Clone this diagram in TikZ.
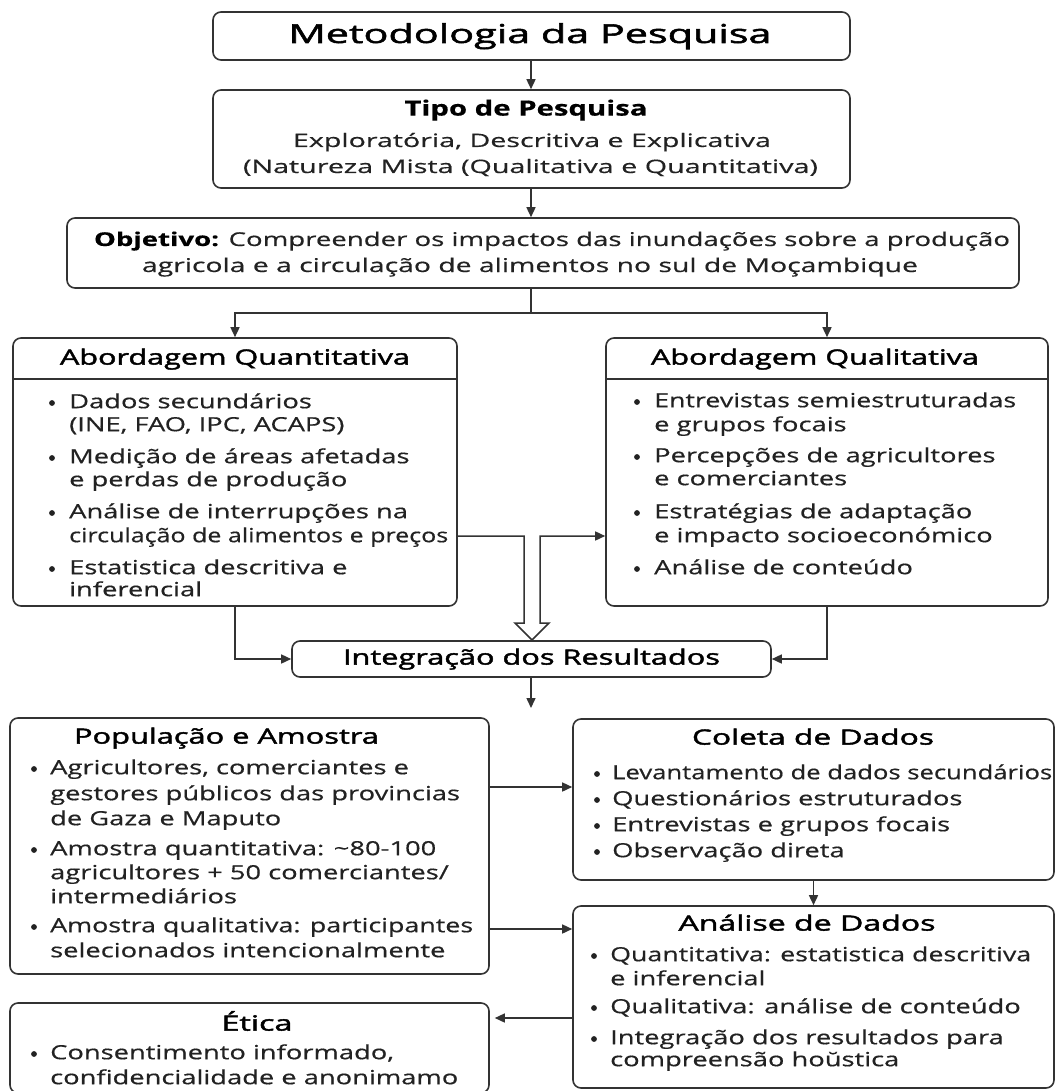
\documentclass[tikz,border=0pt]{standalone}
\usepackage{graphicx}
\usepackage{fontspec}
\setmainfont{Open Sans}[FakeStretch=1.4,FakeBold=0.5]
\newfontfamily\hfont{Open Sans}[FakeStretch=1.4,FakeBold=2]
\usetikzlibrary{arrows.meta}
\definecolor{ln}{HTML}{333333}
\definecolor{tx}{HTML}{222222}
\tikzset{
  box/.style={draw=ln, line width=1.6pt, rounded corners=8pt, inner sep=0pt, fill=white},
  conn/.style={draw=ln, line width=1.5pt},
  arr/.style={conn, -{Triangle[length=10pt,width=9pt]}},
  bt/.style={anchor=base west, inner sep=0pt, text=tx, font=\fontsize{19.5}{24}\selectfont},
  hd/.style={anchor=base, inner sep=0pt, text=black, font=\hfont\fontsize{21}{24}\selectfont},
  ctr/.style={anchor=base, inner sep=0pt, text=tx},
}
% line whose visual centre is at y: baseline 5.2 below
\newcommand\li[3]{\node[bt] at (#1,#2+5.2) {#3};}
\newcommand\bu[2]{\fill[tx] (#1,#2) circle (2.9pt);}
\newcommand\fw[2]{\resizebox{#1pt}{\height}{#2}}
\begin{document}
\begin{tikzpicture}[x=1pt,y=-1pt]
\useasboundingbox[fill=white] (0,0) rectangle (1058,1091);

% boxes
\node[box, minimum width=637pt, minimum height=48pt] (title) at (531.5,36) {};
\node[box, minimum width=637pt, minimum height=98pt] (tipo) at (531.5,139) {};
\node[box, minimum width=952pt, minimum height=70pt] (obj) at (543,253) {};
\node[box, minimum width=444pt, minimum height=268pt] (quant) at (235,472) {};
\node[box, minimum width=442pt, minimum height=268pt] (qual) at (827,472) {};
\node[box, minimum width=479pt, minimum height=36pt] (integ) at (531.5,659) {};
\node[box, minimum width=479pt, minimum height=256pt] (pop) at (249.5,846) {};
\node[box, minimum width=481pt, minimum height=161pt] (coleta) at (813.5,799.5) {};
\node[box, minimum width=481pt, minimum height=182pt] (analise) at (813.5,997) {};
\node[box, minimum width=479pt, minimum height=90pt] (etica) at (249.5,1048) {};

% dividers
\draw[conn, line width=1.6pt] (quant.west |- 0,379) -- (quant.east |- 0,379);
\draw[conn, line width=1.6pt] (qual.west |- 0,379) -- (qual.east |- 0,379);

% top texts
\node[ctr, text=black, font=\hfont\fontsize{26}{30}\selectfont] (t1) at (530,36+7) {\fw{483}{Metodologia da Pesquisa}};
\node[ctr, text=black, font=\bfseries\fontsize{21}{24}\selectfont] (t2) at (526,110+5.6) {\fw{243}{Tipo de Pesquisa}};
\node[ctr, font=\fontsize{18.5}{22}\selectfont] (t3) at (532,142+5) {\fw{478}{Exploratória, Descritiva e Explicativa}};
\node[ctr, font=\fontsize{18.5}{22}\selectfont] (t4) at (530.5,168+5) {\fw{575}{(Natureza Mista (Qualitativa e Quantitativa)}};
\node[ctr, font=\fontsize{19}{24}\selectfont] (o1) at (552,241+5) {\fw{916}{\textcolor{black}{\textbf{Objetivo:}} Compreender os impactos das inundações sobre a produção}};
\node[ctr, font=\fontsize{19}{24}\selectfont] (o2) at (530,267+5) {\fw{776}{agricola e a circulação de alimentos no sul de Moçambique}};

% headings
\node[hd] (hq) at (235,359+5.6) {\fw{350}{Abordagem Quantitativa}};
\node[hd] (hl) at (815,359+5.6) {\fw{328}{Abordagem Qualitativa}};
\node[hd] (hi) at (531.5,659+5.6) {\fw{377}{Integração dos Resultados}};
\node[hd] (hp) at (226.5,738+5.6) {\fw{305}{População e Amostra}};
\node[hd] (hc) at (813,739+5.6) {\fw{242}{Coleta de Dados}};
\node[hd] (ha) at (807,925+5.6) {\fw{257}{Análise de Dados}};
\node[hd] (he) at (257,1025+5.6) {\fw{71}{Ética}};

% quantitative bullets
\bu{52}{403}\li{69}{403}{Dados secundários}
\li{69}{426}{(INE, FAO, IPC, ACAPS)}
\bu{52}{458}\li{69}{458}{Medição de áreas afetadas}
\li{69}{481}{e perdas de produção}
\bu{52}{513}\li{69}{513}{Análise de interrupções na}
\li{69}{537}{\fw{379}{circulação de alimentos e preços}}
\bu{52}{569}\li{69}{569}{Estatistica descritiva e}
\li{69}{591}{inferencial}

% qualitative bullets
\bu{637}{402}\li{654}{402}{\fw{362}{Entrevistas semiestruturadas}}
\li{654}{426}{e grupos focais}
\bu{637}{457}\li{654}{457}{Percepções de agricultores}
\li{654}{480}{e comerciantes}
\bu{637}{513}\li{654}{513}{Estratégias de adaptação}
\li{654}{537}{e impacto socioeconómico}
\bu{637}{569}\li{654}{569}{Análise de conteúdo}

% population
\bu{34}{769}\li{50}{769}{Agricultores, comerciantes e}
\li{50}{795}{gestores públicos das provincias}
\li{50}{820}{de Gaza e Maputo}
\bu{34}{850}\li{50}{850}{Amostra quantitativa: \char"7E 80-100}
\li{50}{874}{agricultores + 50 comerciantes/}
\li{50}{898}{intermediários}
\bu{34}{927}\li{50}{927}{\fw{423}{Amostra qualitativa: participantes}}
\li{50}{952}{selecionados intencionalmente}

% coleta
\bu{597}{774}\li{612}{774}{\fw{440}{Levantamento de dados secundários}}
\bu{597}{800}\li{612}{800}{Questionários estruturados}
\bu{597}{826}\li{612}{826}{Entrevistas e grupos focais}
\bu{597}{852}\li{612}{852}{Observação direta}

% analise
\bu{594}{956}\li{610}{956}{\fw{421}{Quantitativa: estatistica descritiva}}
\li{610}{980}{e inferencial}
\bu{594}{1008}\li{610}{1008}{Qualitativa: análise de conteúdo}
\bu{594}{1039}\li{610}{1039}{Integração dos resultados para}
\li{610}{1061}{compreensão hoŭstica}

% etica
\bu{34}{1054}\li{50}{1054}{Consentimento informado,}
\li{50}{1079}{confidencialidade e anonimamo}

% connectors
\coordinate (sp) at (531,313);
\coordinate (dn) at (531,708);
\draw[arr] (title.south -| 531,0) -- (tipo.north -| 531,0);
\draw[arr] (tipo.south -| 531,0) -- (obj.north -| 531,0);
\draw[conn] (obj.south -| 531,0) -- (sp);
\draw[arr] (sp) -| (quant.north);
\draw[arr] (sp) -| (qual.north);
\draw[arr, line join=miter] (quant.east |- 0,536) -- (524,536) -- (524,623) -- (515,623) -- (532,640) -- (549,623) -- (540,623) -- (540,536) -- (qual.west |- 0,536);
\draw[arr] (quant.south) |- (integ.west);
\draw[arr] (qual.south) |- (integ.east);
\draw[arr] (integ.south -| 531,0) -- (dn);
\draw[arr] (pop.east |- 0,787) -- (coleta.west |- 0,787);
\draw[arr] (pop.east |- 0,929) -- (analise.west |- 0,929);
\draw[arr] (coleta.south) -- (analise.north);
\draw[arr] (analise.west |- 0,1018) -- ([xshift=5pt]etica.east |- 0,1018);
\end{tikzpicture}
\end{document}
